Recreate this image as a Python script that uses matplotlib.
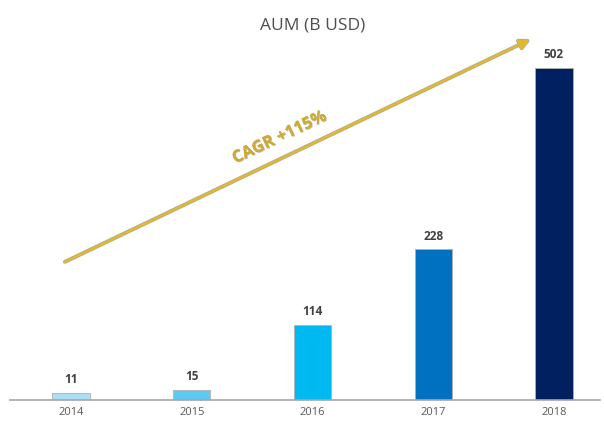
import matplotlib
matplotlib.use("Agg")
import matplotlib.pyplot as plt
import matplotlib.patheffects as pe

years = ["2014", "2015", "2016", "2017", "2018"]
aum = [11, 15, 114, 228, 502]
bar_colors = ["#a9def6", "#5ccaf2", "#00b9f1", "#0070c0", "#002060"]
title = "AUM (B USD)"
cagr_label = "CAGR +115%"

plt.rcParams["font.family"] = ["Open Sans", "DejaVu Sans"]

fig = plt.figure(figsize=(6.04, 4.21), dpi=100)
ax = fig.add_axes([10 / 604, 21 / 421, 590 / 604, 400 / 421])
x = list(range(len(years)))
ax.bar(x, aum, width=0.31, color=bar_colors, edgecolor="#b0b0b0", linewidth=0.6, zorder=2)

for xi, v in zip(x, aum):
    ax.text(xi, v + 10, str(v), ha="center", va="bottom", fontsize=8.5,
            fontweight="bold", color="#404040")

ax.set_xlim(-0.505, 4.381)
ax.set_ylim(0, 605)
for s in ["top", "right", "left"]:
    ax.spines[s].set_visible(False)
ax.spines["bottom"].set_color("#a6a6a6")
ax.spines["bottom"].set_linewidth(1.2)
ax.set_yticks([])
ax.set_xticks(x)
ax.set_xticklabels(years, fontsize=8, color="#595959")
ax.tick_params(axis="x", length=0, pad=5)

fig.text(0.518, 1 - 25 / 421, title, ha="center", va="center", fontsize=12.5, color="#4d4d4d")

# growth arrow with a soft grey rim
ann = ax.annotate("", xy=(3.80, 545), xytext=(-0.05, 209),
                  arrowprops=dict(arrowstyle="-|>,head_length=0.6,head_width=0.3",
                                  color="#e3b92a", lw=1.8, shrinkA=0, shrinkB=0))
ann.arrow_patch.set_path_effects([pe.Stroke(linewidth=2.8, foreground="#a8a8a8"), pe.Normal()])

t = fig.text(279 / 604, 1 - 137 / 421, cagr_label, ha="center", va="center", rotation=25.5,
             fontsize=12, fontweight="bold", color="#cdaa35")
t.set_path_effects([pe.withSimplePatchShadow(offset=(0.6, -0.6), shadow_rgbFace="#9a9a9a", alpha=0.6),
                    pe.Normal()])

fig.savefig("out.png", dpi=100)
